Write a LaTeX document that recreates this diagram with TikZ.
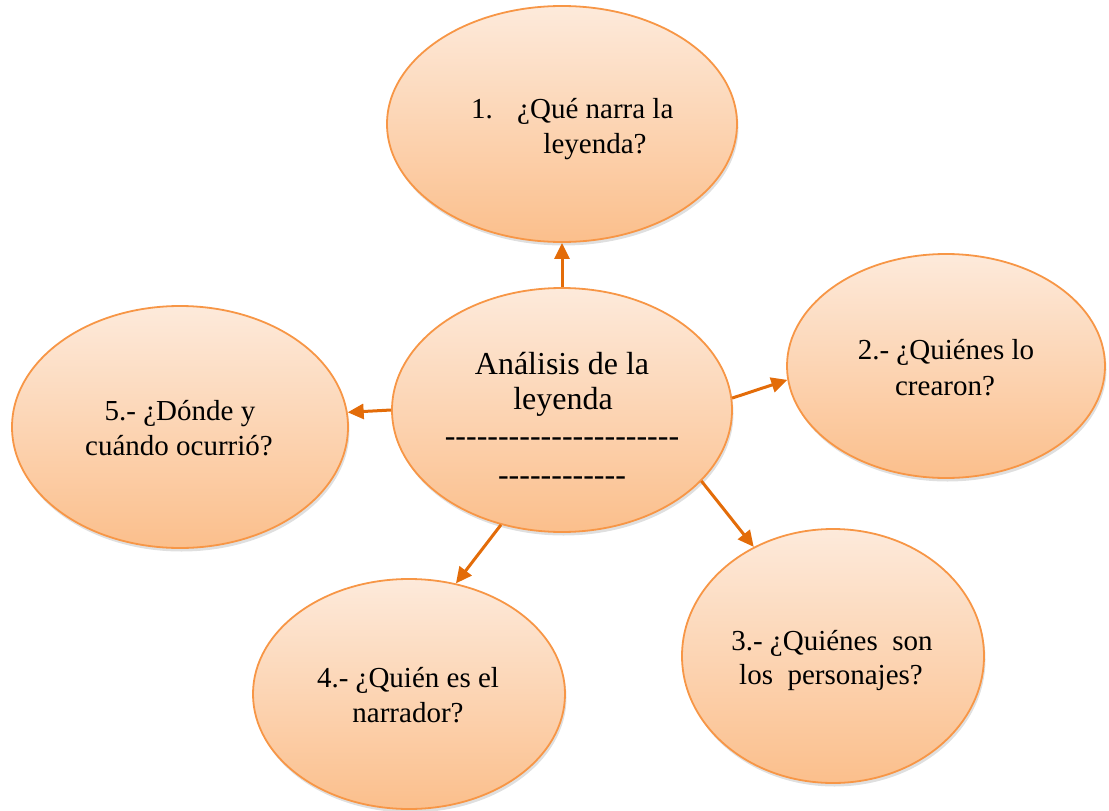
\documentclass[tikz,border=0pt]{standalone}
\usepackage{fontspec}
\setmainfont{Liberation Serif}
\usetikzlibrary{shapes.geometric,shadows,arrows.meta}
\definecolor{ebord}{HTML}{F79646}
\definecolor{etop}{HTML}{FDEADB}
\definecolor{ebot}{HTML}{FBBF8C}
\definecolor{arr}{HTML}{E36C09}
\tikzset{
  bubble/.style={ellipse, draw=ebord, line width=1.8pt, inner sep=0pt,
    top color=etop, bottom color=ebot,
    drop shadow={opacity=0.25, shadow xshift=1.5pt, shadow yshift=-3.5pt}},
  txt/.style={anchor=base, inner sep=0pt, font=\fontsize{29}{35}\selectfont},
  bigtxt/.style={anchor=base, inner sep=0pt, font=\fontsize{32}{37}\selectfont},
  link/.style={draw=arr, line width=3pt, -{Triangle[length=16pt,width=15pt]}}
}
\begin{document}
\begin{tikzpicture}[x=1pt,y=-1pt]
\useasboundingbox (0,0) rectangle (1109,811);
% ellipses
\node[bubble, minimum width=350pt, minimum height=236pt] (top) at (562,124) {};
\node[bubble, minimum width=318pt, minimum height=224pt] (r) at (946,366) {};
\node[bubble, minimum width=302pt, minimum height=254pt] (br) at (833,656) {};
\node[bubble, minimum width=312pt, minimum height=230pt] (bl) at (409,694) {};
\node[bubble, minimum width=336pt, minimum height=242pt] (l) at (180,427) {};
\node[bubble, minimum width=340pt, minimum height=244pt] (c) at (562,410) {};
% texts
\node[txt, anchor=base west] (t1a) at (471,118) {1.};
\node[txt, anchor=base west] (t1b) at (517,118) {¿Qué narra la};
\node[txt] (t1c) at (595,153) {leyenda?};
\node[bigtxt] (c1) at (562,374) {Análisis de la};
\node[bigtxt] (c2) at (563,409) {leyenda};
\node[bigtxt] (c3) at (562,446) {-{}-{}-{}-{}-{}-{}-{}-{}-{}-{}-{}-{}-{}-{}-{}-{}-{}-{}-{}-{}-{}-{}};
\node[bigtxt] (c4) at (562,485) {-{}-{}-{}-{}-{}-{}-{}-{}-{}-{}-{}-{}};
\node[txt] (t2a) at (946,359) {2.- ¿Quiénes lo};
\node[txt] (t2b) at (945,395) {crearon?};
\node[txt] (t3a) at (832,650) {3.- ¿Quiénes\ \ son};
\node[txt] (t3b) at (831,684) {los\ \ personajes?};
\node[txt] (t4a) at (408,687) {4.- ¿Quién es el};
\node[txt] (t4b) at (408,722) {narrador?};
\node[txt] (t5a) at (180,420) {5.- ¿Dónde y};
\node[txt] (t5b) at (179,455) {cuándo ocurrió?};
% arrows
\draw[link] (c.90) -- (top.270);
\draw[link] (c.4) -- (r.185);
\draw[link] (c.-27) -- (br.126);
\draw[link] (c.242) -- (bl.67);
\draw[link] (c.180) -- (l.5);
\end{tikzpicture}
\end{document}
